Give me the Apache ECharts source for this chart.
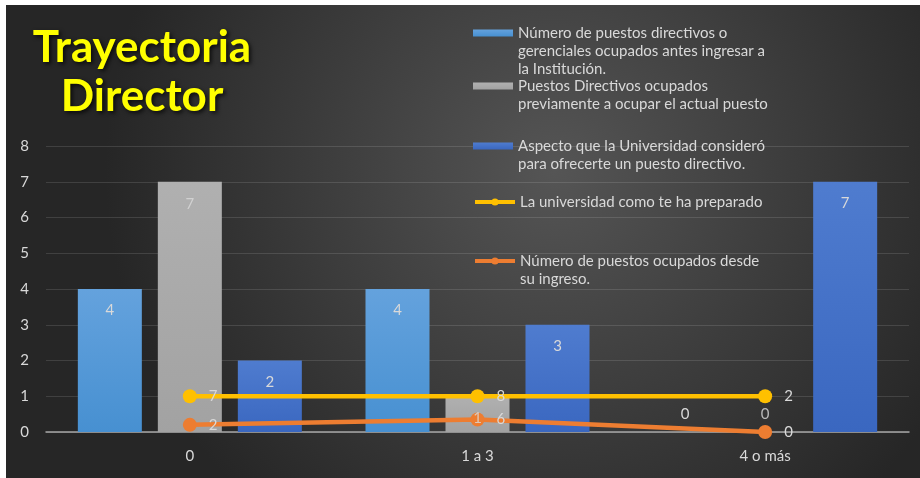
<!DOCTYPE html>
<html>
<head>
<meta charset="utf-8">
<script src="https://cdn.jsdelivr.net/npm/echarts@6/dist/echarts.min.js"></script>
<style>
  html,body{margin:0;padding:0;background:#ffffff;}
  #main{position:absolute;left:6px;top:5px;width:914px;height:473px;}
</style>
</head>
<body>
<div id="main"></div>
<script>
// categorias del eje x
var categorias=['0','1 a 3','4 o más'];
// nombres de las series
var nomAntes='Número de puestos directivos o\ngerenciales ocupados antes ingresar a\nla Institución.';
var nomPrevios='Puestos Directivos ocupados\npreviamente a ocupar el actual puesto';
var nomAspecto='Aspecto que la Universidad consideró\npara ofrecerte un puesto directivo.';
var nomPreparado='La universidad como te ha preparado';
var nomDesde='Número de puestos ocupados desde\nsu ingreso.';
// barras
var puestosAntes=[4,4,0];
var puestosPrevios=[7,1,0];
var aspectoUniv=[2,3,7];
// lineas (posicion y etiqueta mostrada)
var preparado=[1,1,1];
var preparadoEtiq=[7,8,2];
var puestosDesde=[0.2,0.35,0];
var puestosDesdeEtiq=[2,6,0];
// eje y
var ejeY={min:0,max:8,step:1};

var txtColor='#d9d9d9';
var fuente='Lato';

// barras en cero: etiqueta encima del eje
var barData=function(arr){
  return arr.map(function(v){
    if(v===0){
      return {value:v,label:{position:'top',distance:10}};
    }
    return v;
  });
};
var grad=function(top,bottom){
  return new echarts.graphic.LinearGradient(0,0,0,1,[
    {offset:0,color:top},
    {offset:1,color:bottom}
  ]);
};
var barLabel={
  show:true,
  position:'insideTop',
  distance:14,
  color:txtColor,
  fontSize:15,
  fontFamily:fuente
};
var lineaSerie=function(nombre,valores,etiquetas,color){
  return {
    name:nombre,
    type:'line',
    data:valores,
    z:3,
    symbol:'circle',
    symbolSize:14,
    lineStyle:{width:4.5,color:color},
    itemStyle:{color:color},
    label:{
      show:true,
      position:'right',
      distance:12,
      color:txtColor,
      fontSize:15,
      fontFamily:fuente,
      formatter:function(p){return etiquetas[p.dataIndex];}
    }
  };
};
// una leyenda por serie; icono alineado con la primera linea
var leyenda=function(nombre,top,esBarra){
  var n=nombre.split('\n').length;
  var lg={
    data:[nombre],
    left:467,
    top:top,
    padding:0,
    itemWidth:40,
    itemHeight:esBarra?7:9,
    itemGap:0,
    selectedMode:false,
    formatter:function(name){
      var pre='';
      for(var i=1;i<n;i++){pre+=' \n';}
      return pre+name;
    },
    textStyle:{
      color:txtColor,
      fontSize:15,
      fontFamily:fuente,
      lineHeight:18
    }
  };
  if(esBarra){
    lg.icon='rect';
  }else{
    lg.lineStyle={width:4};
  }
  return lg;
};

var chart=echarts.init(document.getElementById('main'));
chart.setOption({
  backgroundColor:{
    type:'radial',x:0.6,y:0.35,r:0.95,
    colorStops:[
      {offset:0,color:'#555555'},
      {offset:1,color:'#262626'}
    ]
  },
  animation:false,
  graphic:[{
    type:'text',
    x:136,
    y:18,
    style:{
      text:'Trayectoria\nDirector',
      align:'center',
      verticalAlign:'top',
      fill:'#ffff00',
      font:'bold 44px Lato',
      lineHeight:49,
      textShadowColor:'rgba(0,0,0,0.75)',
      textShadowBlur:4,
      textShadowOffsetX:2,
      textShadowOffsetY:2
    }
  }],
  legend:[
    leyenda(nomAntes,-17,true),
    leyenda(nomPrevios,54,true),
    leyenda(nomAspecto,114,true),
    leyenda(nomPreparado,188,false),
    leyenda(nomDesde,229,false)
  ],
  grid:{left:40,right:11,top:141,bottom:46},
  xAxis:{
    type:'category',
    data:categorias,
    axisTick:{show:false},
    axisLine:{lineStyle:{color:'#a6a6a6',width:1.5}},
    axisLabel:{color:txtColor,fontSize:15,fontFamily:fuente,margin:17}
  },
  yAxis:{
    type:'value',
    min:ejeY.min,
    max:ejeY.max,
    interval:ejeY.step,
    axisLine:{show:false},
    axisTick:{show:false},
    axisLabel:{color:txtColor,fontSize:15,fontFamily:fuente,margin:17},
    splitLine:{lineStyle:{color:'rgba(255,255,255,0.12)',width:1}}
  },
  series:[
    {
      name:nomAntes,type:'bar',data:barData(puestosAntes),
      barWidth:64,barGap:'25%',
      itemStyle:{color:grad('#64a2dd','#4790d1')},
      label:barLabel
    },
    {
      name:nomPrevios,type:'bar',data:puestosPrevios,
      barWidth:64,barGap:'25%',
      itemStyle:{color:grad('#b0b0b0','#a2a2a2')},
      label:{show:false}
    },
    {
      name:nomAspecto,type:'bar',data:barData(aspectoUniv),
      barWidth:64,barGap:'25%',
      itemStyle:{color:grad('#4f7ccf','#3a67c0')},
      label:barLabel
    },
    lineaSerie(nomPreparado,preparado,preparadoEtiq,'#ffc000'),
    lineaSerie(nomDesde,puestosDesde,puestosDesdeEtiq,'#ed7d31'),
    // etiquetas de la barra gris (barra central) por encima de las lineas
    {
      name:'etiquetasPrevios',
      type:'scatter',
      z:5,
      silent:true,
      symbolSize:1,
      itemStyle:{color:'rgba(0,0,0,0)'},
      data:puestosPrevios.map(function(v){
        return {value:v,label:{position:v===0?'top':'bottom',distance:v===0?10:14}};
      }),
      label:{show:true,color:txtColor,fontSize:15,fontFamily:fuente}
    }
  ]
});
</script>
</body>
</html>
